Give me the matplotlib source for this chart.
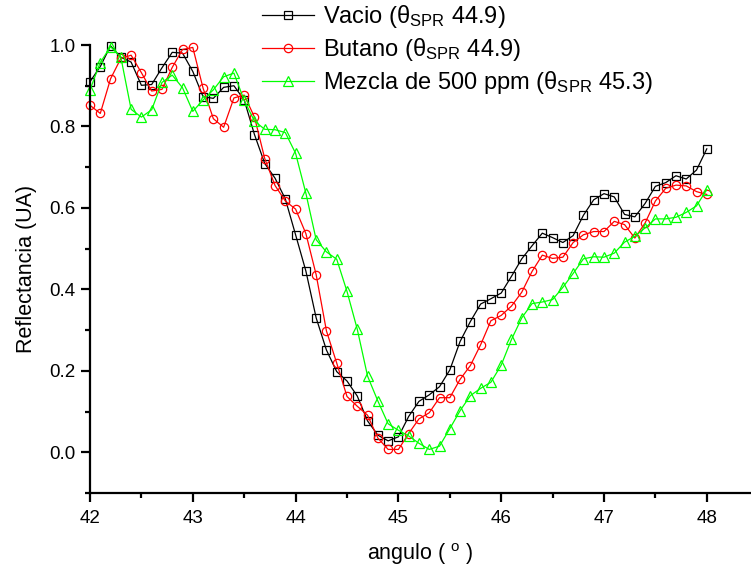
import matplotlib
matplotlib.use('Agg')
import matplotlib.pyplot as plt
import numpy as np
from matplotlib.ticker import MultipleLocator, FormatStrFormatter

plt.rcParams['font.family'] = ['Liberation Sans', 'DejaVu Sans']
plt.rcParams['mathtext.fontset'] = 'custom'
plt.rcParams['mathtext.rm'] = 'Liberation Sans'
plt.rcParams['mathtext.it'] = 'Liberation Sans:italic'

# angle in degrees, 0.1 step
angulo = np.round(np.arange(42.0, 48.01, 0.1), 1)

vacio = [0.910, 0.947, 0.998, 0.970, 0.958, 0.901, 0.903, 0.944, 0.982, 0.980,
         0.935, 0.873, 0.869, 0.896, 0.900, 0.865, 0.780, 0.709, 0.673, 0.622,
         0.534, 0.445, 0.330, 0.251, 0.198, 0.175, 0.138, 0.077, 0.042, 0.028,
         0.038, 0.088, 0.125, 0.141, 0.161, 0.202, 0.272, 0.321, 0.364, 0.377,
         0.391, 0.432, 0.475, 0.507, 0.538, 0.527, 0.515, 0.532, 0.582, 0.620,
         0.635, 0.627, 0.584, 0.578, 0.611, 0.653, 0.662, 0.679, 0.671, 0.693,
         0.745]

butano = [0.852, 0.832, 0.917, 0.967, 0.975, 0.932, 0.887, 0.891, 0.945, 0.989,
          0.994, 0.894, 0.819, 0.798, 0.870, 0.877, 0.823, 0.721, 0.655, 0.617,
          0.597, 0.537, 0.436, 0.298, 0.219, 0.137, 0.113, 0.091, 0.035, 0.007,
          0.007, 0.046, 0.082, 0.097, 0.134, 0.134, 0.179, 0.213, 0.264, 0.323,
          0.336, 0.359, 0.393, 0.444, 0.484, 0.476, 0.479, 0.515, 0.534, 0.542,
          0.542, 0.567, 0.559, 0.526, 0.563, 0.617, 0.648, 0.656, 0.654, 0.640,
          0.633]

mezcla = [0.890, 0.957, 0.996, 0.970, 0.842, 0.823, 0.841, 0.908, 0.926, 0.895,
          0.837, 0.865, 0.890, 0.922, 0.931, 0.864, 0.813, 0.793, 0.792, 0.785,
          0.734, 0.636, 0.522, 0.492, 0.474, 0.395, 0.302, 0.187, 0.126, 0.070,
          0.054, 0.040, 0.022, 0.007, 0.015, 0.058, 0.102, 0.139, 0.157, 0.172,
          0.214, 0.277, 0.330, 0.365, 0.369, 0.375, 0.405, 0.439, 0.475, 0.480,
          0.479, 0.489, 0.516, 0.530, 0.551, 0.573, 0.573, 0.577, 0.589, 0.605,
          0.645]

labels = ['Vacio (θ$_{\\mathrm{SPR}}$ 44.9)',
          'Butano (θ$_{\\mathrm{SPR}}$ 44.9)',
          'Mezcla de 500 ppm (θ$_{\\mathrm{SPR}}$ 45.3)']

fig = plt.figure(figsize=(7.51, 5.66), dpi=100)
ax = fig.add_axes([90 / 751, 73 / 566, 661 / 751, 448 / 566])

style = dict(linewidth=0.9, markerfacecolor='none', markeredgewidth=0.9, clip_on=False)
ax.plot(angulo, vacio, color='black', marker='s', markersize=5.5, label=labels[0], **style)
ax.plot(angulo, butano, color='#ff0000', marker='o', markersize=6, label=labels[1], **style)
ax.plot(angulo, mezcla, color='#00ff00', marker='^', markersize=7, label=labels[2], **style)

ax.set_xlim(42, 48.43)
ax.set_ylim(-0.1, 1.0)
ax.xaxis.set_major_locator(MultipleLocator(1))
ax.xaxis.set_minor_locator(MultipleLocator(0.5))
ax.yaxis.set_minor_locator(MultipleLocator(0.1))
ax.set_yticks(np.arange(0.0, 1.01, 0.2))
ax.yaxis.set_major_formatter(FormatStrFormatter('%.1f'))

for side in ['top', 'right']:
    ax.spines[side].set_visible(False)
for side in ['left', 'bottom']:
    ax.spines[side].set_linewidth(1.6)
ax.tick_params(which='major', direction='out', length=6.5, width=1.6, labelsize=13.5, pad=4)
ax.tick_params(axis='x', which='major', pad=6)
ax.tick_params(which='minor', direction='out', length=3.5, width=1.6)

ax.set_xlabel('angulo ( $^{\\mathrm{o}}$ )', fontsize=15.5, labelpad=10)
ax.set_ylabel('Reflectancia (UA)', fontsize=15.5, labelpad=9)

fig.legend(loc='upper left', bbox_to_anchor=(262 / 751, 1 - 3 / 566), frameon=False,
           fontsize=17, handlelength=2.2, handletextpad=0.4, labelspacing=0.25,
           borderpad=0, borderaxespad=0)

fig.savefig('out.png', dpi=100)
